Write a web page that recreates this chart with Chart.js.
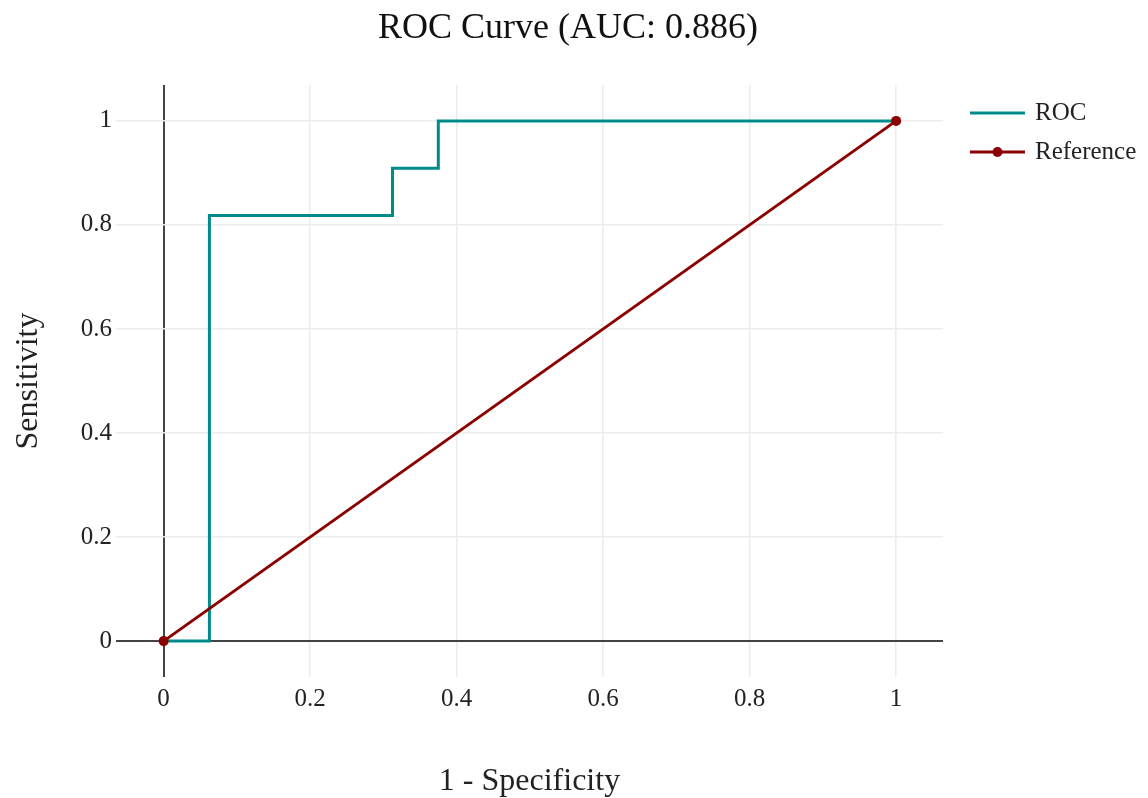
<!DOCTYPE html>
<html>
<head>
<meta charset="utf-8">
<title>ROC Curve</title>
<script src="https://cdn.jsdelivr.net/npm/chart.js@4.4.1/dist/chart.umd.min.js"></script>
<style>
  html, body { margin: 0; padding: 0; background: #fff; }
  #wrap { width: 1148px; height: 798px; }
</style>
</head>
<body>
<div id="wrap"><canvas id="rocChart" width="1148" height="798"></canvas></div>
<script>
// ROC points (1 - specificity, sensitivity), corners included
const rocFpr = [0, 0.0625, 0.0625, 0.3125, 0.3125, 0.375, 0.375, 1];
const rocTpr = [0, 0, 0.818, 0.818, 0.909, 0.909, 1, 1];
// chance line
const refX = [0, 1];
const refY = [0, 1];
const tickVals = [0, 0.2, 0.4, 0.6, 0.8, 1];
const tickLabels = ['0', '0.2', '0.4', '0.6', '0.8', '1'];
const chartTitle = 'ROC Curve (AUC: 0.886)';

const serif = "'Liberation Serif', 'Times New Roman', serif";
const teal = '#008b8b';
const darkRed = '#8b0000';

const toPts = (xs, ys) => xs.map((x, i) => ({ x: x, y: ys[i] }));

const gridColor = ctx => (ctx.tick && ctx.tick.value === 0) ? '#444' : '#ececec';
const gridWidth = ctx => (ctx.tick && ctx.tick.value === 0) ? 2 : 1.5;
const setTicks = scale => { scale.ticks = tickVals.map(v => ({ value: v })); };
const tickText = v => { const i = tickVals.indexOf(v); return i >= 0 ? tickLabels[i] : ''; };

// title centred on the page, legend on the right (line + marker like the original)
const decorations = {
    id: 'decorations',
    afterDraw(chart) {
        const ctx = chart.ctx;
        ctx.save();
        ctx.fillStyle = '#111';
        ctx.font = '36px ' + serif;
        ctx.textAlign = 'center';
        ctx.textBaseline = 'middle';
        ctx.fillText(chartTitle, 568, 29);

        const x0 = chart.chartArea.right + 27;
        const rows = [
            { label: chart.data.datasets[0].label, color: teal, dot: false, y: 113 },
            { label: chart.data.datasets[1].label, color: darkRed, dot: true, y: 152 }
        ];
        rows.forEach(r => {
            ctx.strokeStyle = r.color;
            ctx.lineWidth = 3;
            ctx.beginPath();
            ctx.moveTo(x0, r.y);
            ctx.lineTo(x0 + 55, r.y);
            ctx.stroke();
            if (r.dot) {
                ctx.fillStyle = r.color;
                ctx.beginPath();
                ctx.arc(x0 + 27.5, r.y, 5, 0, Math.PI * 2);
                ctx.fill();
            }
            ctx.fillStyle = '#222';
            ctx.font = '25px ' + serif;
            ctx.textAlign = 'left';
            ctx.textBaseline = 'middle';
            ctx.fillText(r.label, x0 + 65, r.y);
        });
        ctx.restore();
    }
};

new Chart(document.getElementById('rocChart').getContext('2d'), {
    type: 'line',
    data: {
        datasets: [
            {
                label: 'ROC',
                data: toPts(rocFpr, rocTpr),
                borderColor: teal,
                borderWidth: 3,
                pointRadius: 0,
                fill: false,
                tension: 0,
                order: 2
            },
            {
                label: 'Reference',
                data: toPts(refX, refY),
                borderColor: darkRed,
                backgroundColor: darkRed,
                borderWidth: 3,
                pointRadius: 5,
                pointBorderWidth: 0,
                fill: false,
                tension: 0,
                order: 1
            }
        ]
    },
    options: {
        responsive: false,
        animation: false,
        layout: { padding: { left: 0, right: 205, top: 85, bottom: 0 } },
        plugins: {
            legend: { display: false },
            tooltip: { enabled: false },
            title: { display: false }
        },
        scales: {
            x: {
                type: 'linear',
                min: -0.065,
                max: 1.064,
                afterBuildTicks: setTicks,
                afterFit: s => { s.height = 121; },
                border: { display: false },
                grid: { color: gridColor, lineWidth: gridWidth, drawTicks: false },
                ticks: {
                    callback: tickText,
                    color: '#222',
                    padding: 7,
                    maxRotation: 0,
                    font: { family: serif, size: 25 }
                },
                title: {
                    display: true,
                    text: '1 - Specificity',
                    color: '#222',
                    font: { family: serif, size: 32 },
                    padding: { top: 0, bottom: -3 }
                }
            },
            y: {
                type: 'linear',
                min: -0.069,
                max: 1.069,
                afterBuildTicks: setTicks,
                afterFit: s => { s.width = 116; },
                border: { display: false },
                grid: { color: gridColor, lineWidth: gridWidth, drawTicks: false },
                ticks: {
                    callback: tickText,
                    color: '#222',
                    padding: 4,
                    font: { family: serif, size: 25 }
                },
                title: {
                    display: true,
                    text: 'Sensitivity',
                    color: '#222',
                    font: { family: serif, size: 32 },
                    padding: { top: 9, bottom: 0 }
                }
            }
        }
    },
    plugins: [decorations]
});
</script>
</body>
</html>
